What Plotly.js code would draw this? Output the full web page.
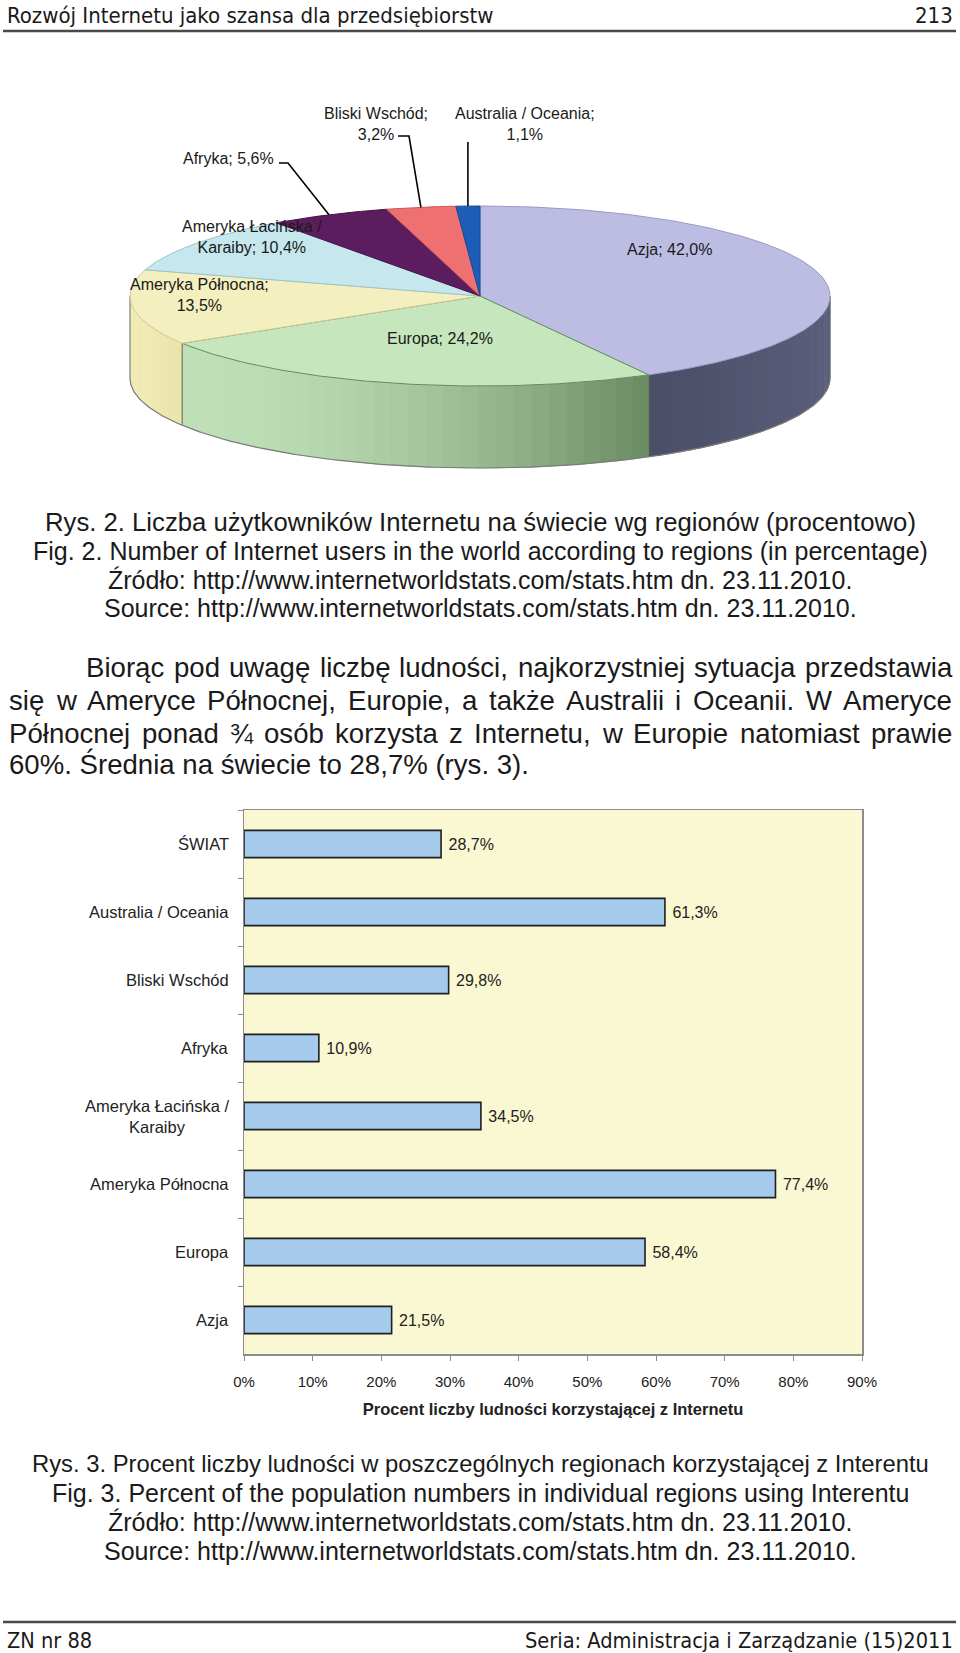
<!DOCTYPE html>
<html><head><meta charset="utf-8">
<script src="https://cdn.plot.ly/plotly-3.0.1.min.js"></script>
<style>html,body{margin:0;padding:0;background:#fff;} #page{width:960px;height:1653px;}</style>
</head><body><div id="page"></div>
<script>
// ---------------- DATA ----------------
const pieRegions = ['Azja','Europa','Ameryka Północna','Ameryka Łacińska /<br>Karaiby','Afryka','Bliski Wschód','Australia / Oceania'];
const pieShares = [42.0, 24.2, 13.5, 10.4, 5.6, 3.2, 1.1];
const pieBreakAfterName = [false, false, true, false, false, true, true];

const barCategories = ['ŚWIAT','Australia / Oceania','Bliski Wschód','Afryka','Ameryka Łacińska / Karaiby','Ameryka Północna','Europa','Azja'];
const barTickLabels = ['ŚWIAT','Australia / Oceania','Bliski Wschód','Afryka','Ameryka Łacińska /<br>Karaiby','Ameryka Północna','Europa','Azja'];
const barValues = [28.7, 61.3, 29.8, 10.9, 34.5, 77.4, 58.4, 21.5];
const xTickValues = [0,10,20,30,40,50,60,70,80,90];
const xTickLabels = ['0%','10%','20%','30%','40%','50%','60%','70%','80%','90%'];

// ---------------- STYLE / LAYOUT ----------------
const W = 960, H = 1653;
const FONT = 'Liberation Sans, Arial, sans-serif';
const HFONT = 'DejaVu Sans Condensed, DejaVu Sans, sans-serif';
const TXT = '#1a1a1a';
const P = x => x / W;
const Q = y => 1 - y / H;

const pieTop = ['#BDBDE3','#C6E6BE','#F4EFBE','#C5E7ED','#5C1D5E','#EE7070','#1D5DB8'];
const pieTopLine = ['#9a9ac4','#5f8f59','#cfc999','#9cc3ca','#45124a','#c85858','#174b94'];
const pieSide = [['#4A4D67','#5A5E7A'],['#BFE0B6','#6A8B62'],['#F2ECB8','#E9E3AC'],['#C5E7ED','#C5E7ED'],['#5C1D5E','#5C1D5E'],['#EE7070','#EE7070'],['#1D5DB8','#1D5DB8']];
const pieSideGamma = [1, 1.8, 1, 1, 1, 1, 1];
const pieLabelPos = [[669,249],[440,339],[199,295],[252,237.5],[228,158],[376,124],[525,124]];
const leaderPts = {4: [[279,163],[288,163]], 5: [[398,136],[409,136]], 6: [[468,142]]};

const CX = 480, CY = 296, RA = 350, RB = 90, DEPTH = 82;
const rad = d => d * Math.PI / 180;
const ex = t => CX + RA * Math.cos(rad(t));
const ey = t => CY - RB * Math.sin(rad(t));
function arcPts(t0, t1, dy) {
  const n = Math.max(2, Math.ceil(Math.abs(t1 - t0) / 0.75));
  const xs = [], ys = [];
  for (let i = 0; i <= n; i++) { const t = t0 + (t1 - t0) * i / n; xs.push(ex(t)); ys.push(ey(t) + (dy || 0)); }
  return [xs, ys];
}
function hex2rgb(h){return [parseInt(h.substr(1,2),16),parseInt(h.substr(3,2),16),parseInt(h.substr(5,2),16)];}
function mix(a,b,f){const A=hex2rgb(a),B=hex2rgb(b);return 'rgb('+A.map((v,i)=>Math.round(v+(B[i]-v)*f)).join(',')+')';}
const fmt = v => v.toFixed(1).replace('.', ',');

const traces = [];
const annotations = [];
const shapes = [];

// ---- pie: compute slice angles from data ----
let cum = 0;
const slices = pieShares.map((v, i) => {
  const t0 = 90 - cum * 3.6; cum += v; const t1 = 90 - cum * 3.6;
  return {i, t0, t1, mid: (t0 + t1) / 2};
});

// sides (front half only)
slices.forEach(s => {
  const lo = Math.max(s.t1, -180), hi = Math.min(s.t0, 0);
  if (lo >= hi) return;
  const N = 30;
  const xl = ex(lo), xr = ex(hi);
  for (let k = 0; k < N; k++) {
    const a = lo + (hi - lo) * k / N, b = lo + (hi - lo) * (k + 1) / N + (k < N-1 ? 0.3 : 0);
    const [tx, ty] = arcPts(a, b, 0);
    const [bx, by] = arcPts(b, a, DEPTH);
    const xm = (ex(a) + ex(b)) / 2;
    let f = Math.min(1, Math.max(0, (xm - Math.min(xl,xr)) / Math.abs(xr - xl)));
    f = Math.pow(f, pieSideGamma[s.i]);
    const c = mix(pieSide[s.i][0], pieSide[s.i][1], f);
    traces.push({type:'scatter', mode:'lines', x:tx.concat(bx), y:ty.concat(by), fill:'toself', fillcolor:c,
      line:{color:c, width:0.6}, xaxis:'x2', yaxis:'y2', hoverinfo:'skip', showlegend:false});
  }
  [lo, hi].forEach(t => {
    traces.push({type:'scatter', mode:'lines', x:[ex(t), ex(t)], y:[ey(t), ey(t) + DEPTH],
      line:{color: s.i === 1 ? '#5f8a58' : '#6a6a6a', width:1}, xaxis:'x2', yaxis:'y2', hoverinfo:'skip', showlegend:false});
  });
});
// bottom rim
{
  const [bx, by] = arcPts(-180, 0, DEPTH);
  traces.push({type:'scatter', mode:'lines', x:bx, y:by, line:{color:'#7a7a7a', width:1.2}, xaxis:'x2', yaxis:'y2', hoverinfo:'skip', showlegend:false});
}
// top faces
slices.forEach(s => {
  const [ax, ay] = arcPts(s.t0, s.t1, 0);
  traces.push({type:'scatter', mode:'lines', x:[CX].concat(ax, [CX]), y:[CY].concat(ay, [CY]), fill:'toself',
    fillcolor: pieTop[s.i], line:{color: pieTopLine[s.i], width:1}, xaxis:'x2', yaxis:'y2', hoverinfo:'skip', showlegend:false});
});
// leader lines + labels
slices.forEach(s => {
  if (leaderPts[s.i]) {
    const pts = leaderPts[s.i].map(p => p.slice()).concat([[ex(s.mid), ey(s.mid)]]);
    if (s.i === 6) pts[0][0] = ex(s.mid);
    traces.push({type:'scatter', mode:'lines', x:pts.map(p=>p[0]), y:pts.map(p=>p[1]), line:{color:'#000', width:1.6},
      xaxis:'x2', yaxis:'y2', hoverinfo:'skip', showlegend:false});
  }
  const txt = pieRegions[s.i] + ';' + (pieBreakAfterName[s.i] ? '<br>' : ' ') + fmt(pieShares[s.i]) + '%';
  annotations.push({text: txt, xref:'paper', yref:'paper', x:P(pieLabelPos[s.i][0]), y:Q(pieLabelPos[s.i][1]),
    xanchor:'center', yanchor:'middle', align:'center', showarrow:false, font:{family:FONT, size:16, color:TXT}, borderpad:0});
});

// ---- bar chart ----
traces.push({type:'bar', orientation:'h', x: barValues, y: barCategories, xaxis:'x', yaxis:'y', width:0.4,
  marker:{color:'#A6CAEC', line:{color:'#1f1f1f', width:1.6}},
  texttemplate:'\u00a0%{x:.1f}%', textposition:'outside', cliponaxis:false, constraintext:'none',
  textfont:{family:FONT, size:16, color:'#222'}, hoverinfo:'skip', showlegend:false});
barTickLabels.forEach((t, i) => {
  annotations.push({text:t, xref:'paper', yref:'y', x:P(230), y:i, xanchor:'right', yanchor:'middle', align:'center',
    showarrow:false, font:{family:FONT, size:16.5, color:'#222'}, borderpad:0});
});
shapes.push({type:'rect', xref:'x domain', yref:'y domain', x0:0, x1:1, y0:0, y1:1, fillcolor:'#FAF8D2', line:{width:0}, layer:'below'});

// ---- page text ----
function addText(text, x, y, anchor, size, family) {
  annotations.push({text, xref:'paper', yref:'paper', x:P(x), y:Q(y), xanchor:anchor, yanchor:'middle', showarrow:false,
    font:{family: family || FONT, size, color:TXT}, borderpad:0, borderwidth:0});
}
addText('Rozwój Internetu jako szansa dla przedsiębiorstw', 7, 16, 'left', 22, HFONT);
addText('213', 953, 16, 'right', 22, HFONT);
addText('ZN nr 88', 7, 1640, 'left', 21.6, HFONT);
addText('Seria: Administracja i Zarządzanie (15)2011', 953, 1640, 'right', 21.6, HFONT);
shapes.push({type:'line', xref:'paper', yref:'paper', x0:P(3), x1:P(956), y0:Q(31), y1:Q(31), line:{color:'#4a4a4a', width:2.5}});
shapes.push({type:'line', xref:'paper', yref:'paper', x0:P(3), x1:P(956), y0:Q(1622), y1:Q(1622), line:{color:'#4a4a4a', width:2.5}});

const cap2 = ['Rys. 2. Liczba użytkowników Internetu na świecie wg regionów (procentowo)',
  'Fig. 2. Number of Internet users in the world according to regions (in percentage)',
  'Źródło: http://www.internetworldstats.com/stats.htm dn. 23.11.2010.',
  'Source: http://www.internetworldstats.com/stats.htm dn. 23.11.2010.'];
const cap2Y = [522, 551, 580, 608];
const cap2Size = [25.7, 25, 25, 25];
cap2.forEach((t, i) => addText(t, 480, cap2Y[i], 'center', cap2Size[i]));
const cap3 = ['Rys. 3. Procent liczby ludności w poszczególnych regionach korzystającej z Interentu',
  'Fig. 3. Percent of the population numbers in individual regions using Interentu',
  'Źródło: http://www.internetworldstats.com/stats.htm dn. 23.11.2010.',
  'Source: http://www.internetworldstats.com/stats.htm dn. 23.11.2010.'];
const cap3Y = [1463, 1493, 1522, 1551];
const cap3Size = [23.8, 25, 25, 25];
cap3.forEach((t, i) => addText(t, 480, cap3Y[i], 'center', cap3Size[i]));

// justified paragraph
const PSIZE = 27.6;
const paraLines = [
  {text:'Biorąc pod uwagę liczbę ludności, najkorzystniej sytuacja przedstawia', x0:86, x1:952, y:668, justify:true},
  {text:'się w Ameryce Północnej, Europie, a także Australii i Oceanii. W Ameryce', x0:9, x1:952, y:701, justify:true},
  {text:'Północnej ponad ¾ osób korzysta z Internetu, w Europie natomiast prawie', x0:9, x1:952, y:733, justify:true},
  {text:'60%. Średnia na świecie to 28,7% (rys. 3).', x0:9, y:764, justify:false}
];
const ctx = document.createElement('canvas').getContext('2d');
ctx.font = PSIZE + 'px "Liberation Sans", Arial, sans-serif';
paraLines.forEach(L => {
  if (!L.justify) { addText(L.text, L.x0, L.y, 'left', PSIZE); return; }
  const words = L.text.split(' ');
  const ws = words.map(w => ctx.measureText(w).width);
  const sum = ws.reduce((a, b) => a + b, 0);
  const gap = (L.x1 - L.x0 - sum) / (words.length - 1);
  let x = L.x0;
  words.forEach((w, k) => { addText(w, x, L.y, 'left', PSIZE); x += ws[k] + gap; });
});

const layout = {
  width: W, height: H, autosize:false,
  margin:{l:0, r:0, t:0, b:0, pad:0},
  paper_bgcolor:'#ffffff', plot_bgcolor:'rgba(0,0,0,0)',
  separators:', ',
  showlegend:false,
  xaxis:{domain:[244/W, 862/W], range:[0,90], tickmode:'array', tickvals:xTickValues, ticktext:xTickLabels, ticks:'outside', ticklen:5,
    tickcolor:'#8c8c8c', showline:true, linecolor:'#8c8c8c', linewidth:1.5, mirror:true, showgrid:false, zeroline:false,
    tickfont:{family:FONT, size:15, color:'#222'}, ticklabelstandoff:8, anchor:'y', fixedrange:true,
    title:{text:'Procent liczby ludności korzystającej z Internetu', font:{family:FONT, size:16.5, color:'#222', weight:'bold'}, standoff:15}},
  yaxis:{domain:[1-1354/H, 1-810/H], type:'category', categoryorder:'array', categoryarray:barCategories, autorange:'reversed',
    ticks:'outside', tickson:'boundaries', ticklen:5, tickcolor:'#8c8c8c', showticklabels:false, showline:true,
    linecolor:'#8c8c8c', linewidth:1.5, mirror:true, showgrid:false, zeroline:false, anchor:'x', fixedrange:true},
  xaxis2:{domain:[0,1], range:[0,W], visible:false, anchor:'y2', fixedrange:true},
  yaxis2:{domain:[1-480/H, 1], range:[480,0], visible:false, anchor:'x2', fixedrange:true},
  annotations, shapes
};
Plotly.newPlot('page', traces, layout, {displayModeBar:false, staticPlot:true});
</script>
</body></html>
